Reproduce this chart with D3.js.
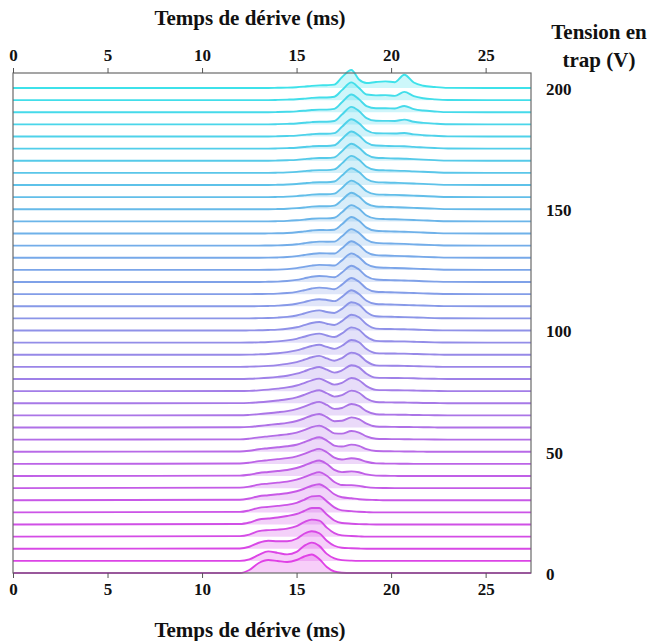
<!DOCTYPE html>
<html>
<head>
<meta charset="utf-8">
<script src="https://cdn.jsdelivr.net/npm/d3@7"></script>
<style>
  html, body { margin: 0; padding: 0; background: #fff; }
  svg { display: block; }
  text { font-family: "Liberation Serif", "Times New Roman", serif; font-weight: bold; fill: #111; }
</style>
</head>
<body>
<svg id="chart" width="651" height="641"></svg>
<script>
// ---------- data ----------
const voltages = [0,5,10,15,20,25,30,35,40,45,50,55,60,65,70,75,80,85,90,95,100,105,110,115,120,125,130,135,140,145,150,155,160,165,170,175,180,185,190,195,200];
const times = [12.0,12.5,13.0,13.5,14.0,14.5,15.0,15.4,15.8,16.2,16.6,17.0,17.4,17.9,18.3,18.7,19.2,19.7,20.2,20.7,21.2,21.7,22.3,23.0];
const intensity = [
  [0,3,10,13,12,11,13,16.5,18.5,14,6,1.5,0.3,0,0,0,0,0,0,0,0,0,0,0],
  [0,1.5,6,9.5,8,6.5,9,15,18.3,15,7,2.5,0.8,0.2,0,0,0,0,0,0,0,0,0,0],
  [0.3,2,6,8,7.5,7.5,10,15,17.5,15.5,8,3,1,0.5,0.2,0,0,0,0,0,0,0,0,0],
  [0.5,2,5.5,6.5,7,8,10.5,14.5,17,16,9,3.5,1.2,0.6,0.3,0,0,0,0,0,0,0,0,0],
  [0.5,2,5,6,7,8.5,10.5,13.5,16.5,16.5,10,4,1.5,0.8,0.4,0.2,0,0,0,0,0,0,0,0],
  [0.5,2,4.5,5.5,6.5,7.5,9.5,12.5,16,16.5,11,5,2,1.2,0.6,0.3,0,0,0,0,0,0,0,0],
  [0.5,1.8,4,5,6,7,9,11.5,14.5,16,12,6,3,2,1,0.5,0.3,0,0,0,0,0,0,0],
  [0.5,1.5,3.5,4.5,5.5,6.5,8.5,11,14,16,12.3,6.1,3.1,3,2.3,1,0.3,0.1,0,0,0,0,0,0],
  [0.4,1.3,3,4,5,6,8,10.5,13.5,15.5,12,6.1,3.9,4.6,3.7,1.6,0.4,0.2,0.1,0,0,0,0,0],
  [0.4,1.2,2.7,3.7,4.7,5.7,7.5,10,13,15,11.6,6.2,4.4,5.7,4.6,2.1,0.5,0.3,0.2,0.1,0,0,0,0],
  [0.3,1,2.5,3.5,4.5,5.5,7,9.5,12.5,14.5,11.2,6.2,5.2,7.1,5.9,2.6,0.7,0.5,0.4,0.3,0.2,0.1,0,0],
  [0.3,1,2.3,3.3,4.3,5.3,7,9.5,12.5,14,10.8,6.3,6,8.6,7.1,3.2,0.9,0.6,0.5,0.4,0.3,0.2,0.1,0],
  [0.2,0.6,1.5,2.5,3.5,4.6,6.5,9,12,13.5,10.4,6.3,6.7,10.1,8.4,3.8,1,0.7,0.6,0.5,0.4,0.3,0.1,0],
  [0.1,0.5,1.2,2.1,3.1,4.3,6.2,8.7,11.7,13.5,10.4,6.5,7.4,11.4,9.4,4.2,1.1,0.8,0.7,0.6,0.4,0.3,0.1,0],
  [0.1,0.4,1,1.8,2.8,4,5.9,8.4,11.3,13,10,6.6,8.1,12.6,10.5,4.7,1.2,0.9,0.8,0.7,0.5,0.3,0.2,0],
  [0.1,0.3,0.8,1.5,2.5,3.7,5.6,8.1,10.8,12.5,9.6,6.5,8.3,13.1,10.9,5,1.3,1,0.9,0.8,0.6,0.4,0.2,0],
  [0,0.2,0.6,1.2,2.1,3.3,5.3,7.7,10.3,12,9.3,6.4,8.6,13.8,11.6,5.3,1.4,1.1,1,0.9,0.7,0.4,0.2,0],
  [0,0.2,0.5,1,1.8,3,4.8,7.1,9.6,11,8.5,6.2,8.8,14.3,12,5.5,1.5,1.2,1.1,1,0.8,0.5,0.2,0],
  [0,0.1,0.4,0.8,1.5,2.6,4.3,6.5,8.8,10,7.8,5.9,9,14.8,12.5,5.7,1.6,1.3,1.2,1.1,0.8,0.5,0.3,0],
  [0,0.1,0.3,0.6,1.2,2.2,3.8,5.9,8,9,7.1,5.6,9.2,15.3,12.9,6,1.8,1.4,1.3,1.2,0.9,0.6,0.3,0.1],
  [0,0.1,0.2,0.5,0.9,1.7,3.2,5.3,7.5,8.5,6.8,5.5,9.4,15.8,13.3,6.2,1.9,1.5,1.4,1.2,1,0.6,0.3,0.1],
  [0,0,0.2,0.4,0.8,1.5,2.9,4.9,7,8,6.4,5.4,9.5,16.1,13.7,6.4,2.1,1.7,1.5,1.3,1,0.7,0.3,0.1],
  [0,0,0.1,0.3,0.6,1.2,2.5,4.2,6.1,7,6.3,5.1,9.4,16,12.2,5.5,2.3,1.9,1.6,1.3,1,0.7,0.4,0.1],
  [0,0,0.1,0.2,0.5,1.1,2.3,3.9,5.6,6.5,6,4.9,9.5,16.2,12.4,5.6,2.4,2,1.7,1.4,1.1,0.8,0.4,0.1],
  [0,0,0,0.2,0.4,1,2.1,3.6,5.2,6,5.6,4.7,9.5,16.3,12.5,5.7,2.5,2,1.8,1.5,1.2,0.8,0.4,0.1],
  [0,0,0,0.1,0.3,0.8,1.8,3,4.3,5,4.8,4.4,9.5,16.5,12.7,5.8,2.6,2.1,1.9,1.6,1.2,0.9,0.5,0.1],
  [0,0,0,0.1,0.3,0.7,1.6,2.7,3.8,4.5,4.4,4.2,9.4,16.5,12.7,5.8,2.6,2.2,1.9,1.6,1.3,0.9,0.5,0.1],
  [0,0,0,0.1,0.2,0.6,1.4,2.4,3.4,4,3.9,4,9.3,16.5,12.7,5.9,2.7,2.2,2,1.7,1.3,0.9,0.5,0.1],
  [0,0,0,0.1,0.2,0.5,1.2,2.1,3,3.5,3.4,3.8,9.2,16.5,12.7,5.9,2.7,2.3,2,1.7,1.4,1,0.5,0.1],
  [0,0,0,0,0.2,0.5,1.1,1.8,2.6,3,3,3.6,9.1,16.3,12.6,5.8,2.7,2.3,2.1,1.8,1.4,1,0.5,0.1],
  [0,0,0,0,0.2,0.5,1.1,1.8,2.6,3,3,3.6,9.2,16.5,12.7,5.9,2.8,2.4,2.1,1.8,1.4,1,0.6,0.1],
  [0,0,0,0,0.2,0.5,1,1.7,2.5,2.9,2.9,3.5,9.2,16.5,12.7,5.9,2.8,2.4,2.2,1.9,1.5,1.1,0.6,0.1],
  [0,0,0,0,0.2,0.5,1,1.7,2.4,2.8,2.8,3.5,9.4,16.8,12.9,6,2.9,2.5,2.2,1.9,1.5,1.1,0.6,0.1],
  [0,0,0,0,0.2,0.5,1,1.7,2.4,2.8,2.8,3.5,9.5,17,13.1,6.1,2.9,2.5,2.3,2,1.5,1.1,0.6,0.1],
  [0,0,0,0,0.2,0.5,0.9,1.6,2.3,2.7,2.7,3.4,9.5,17,13.1,6.2,3,2.6,2.3,2,1.6,1.1,0.6,0.1],
  [0,0,0,0,0.2,0.5,0.9,1.6,2.3,2.7,2.7,3.4,9.6,17.2,13.2,6.2,3.1,2.8,2.5,2.4,1.7,1.2,0.6,0.1],
  [0,0,0,0,0.2,0.5,0.9,1.6,2.3,2.7,2.7,3.4,9.7,17.3,13.3,6.3,3.3,3.1,3,3.5,2.1,1.3,0.7,0.1],
  [0,0,0,0,0.2,0.5,0.9,1.6,2.3,2.7,2.7,3.4,9.8,17.5,13.3,6.3,3.6,3.5,3.4,4.8,2.6,1.5,0.7,0.1],
  [0,0,0,0,0.2,0.5,0.9,1.5,2.2,2.6,2.6,3.4,9.9,17.7,13,6.2,4,4,3.8,6.3,3.2,1.7,0.8,0.1],
  [0,0,0,0,0.2,0.5,0.9,1.5,2.2,2.6,2.6,3.4,10,17.8,12.2,5.6,4.8,5,4.3,8.3,4,1.9,0.8,0.1],
  [0,0,0,0,0.2,0.4,0.8,1.4,2.1,2.6,2.8,3.4,10.7,18,8.5,5,6,6.6,5.8,13.3,5.5,2.3,1,0.1]
];
const xTicks = [0,5,10,15,20,25];
const vTicks = [0,50,100,150,200];
const xTitle = "Temps de dérive (ms)";
const vTitle = ["Tension en", "trap (V)"];

// ---------- layout ----------
const L = 13, R = 531, T = 73, B = 573;
const svg = d3.select("#chart");

const x = d3.scaleLinear().domain([0, 27.4]).range([L, R]);
const yV = d3.scaleLinear().domain([0, 200]).range([B, 88]);
const amp = d3.scaleLinear().domain([0, 20]).range([0, 20]);
const color = d3.scaleLinear().domain([0, 200]).range(["#e040e6", "#3ee2ea"]).interpolate(d3.interpolateRgb);

// traces, top first so lower ones overlay
const order = d3.range(voltages.length).reverse();
const gTr = svg.append("g");
order.forEach(i => {
  const v = voltages[i];
  const pts = [[x.domain()[0], 0]].concat(times.map((t, j) => [t, intensity[i][j]])).concat([[x.domain()[1], 0]]);
  const base = yV(v);
  const area = d3.area().x(d => x(d[0])).y0(base).y1(d => base - amp(d[1])).curve(d3.curveMonotoneX);
  const line = d3.line().x(d => x(d[0])).y(d => base - amp(d[1])).curve(d3.curveMonotoneX);
  gTr.append("path").attr("d", area(pts)).attr("fill", color(v)).attr("fill-opacity", 0.26).attr("stroke", "none");
  gTr.append("path").attr("d", line(pts)).attr("fill", "none").attr("stroke", color(v)).attr("stroke-width", 1.9).attr("stroke-linejoin", "round");
});

// frame
svg.append("rect").attr("x", L).attr("y", T).attr("width", R - L).attr("height", B - T)
  .attr("fill", "none").attr("stroke", "#6a6a6a").attr("stroke-width", 1.2);

// axes
const axTop = d3.axisTop(x).tickValues(xTicks).tickSize(5).tickSizeOuter(0).tickPadding(7);
const axBot = d3.axisBottom(x).tickValues(xTicks).tickSize(5).tickSizeOuter(0).tickPadding(5);
const gt = svg.append("g").attr("transform", `translate(0,${T})`).call(axTop);
const gb = svg.append("g").attr("transform", `translate(0,${B})`).call(axBot);
[gt, gb].forEach(g => {
  g.select(".domain").remove();
  g.selectAll(".tick line").attr("stroke", "#555");
  g.selectAll(".tick text").style("font-family", '"Liberation Serif", serif').style("font-weight", "bold").style("font-size", "17px").attr("fill", "#111");
});

// right voltage labels
svg.append("g").selectAll("text").data(vTicks).join("text")
  .attr("x", 546).attr("y", d => yV(d) + 3).attr("dominant-baseline", "middle")
  .style("font-size", "17px").text(d => d);

// titles
svg.append("text").attr("x", 250).attr("y", 25).attr("text-anchor", "middle").style("font-size", "21px").text(xTitle);
svg.append("text").attr("x", 250).attr("y", 637).attr("text-anchor", "middle").style("font-size", "21px").text(xTitle);
svg.append("text").attr("x", 599).attr("y", 39).attr("text-anchor", "middle").style("font-size", "21px").text(vTitle[0]);
svg.append("text").attr("x", 599).attr("y", 67).attr("text-anchor", "middle").style("font-size", "21px").text(vTitle[1]);
</script>
</body>
</html>
